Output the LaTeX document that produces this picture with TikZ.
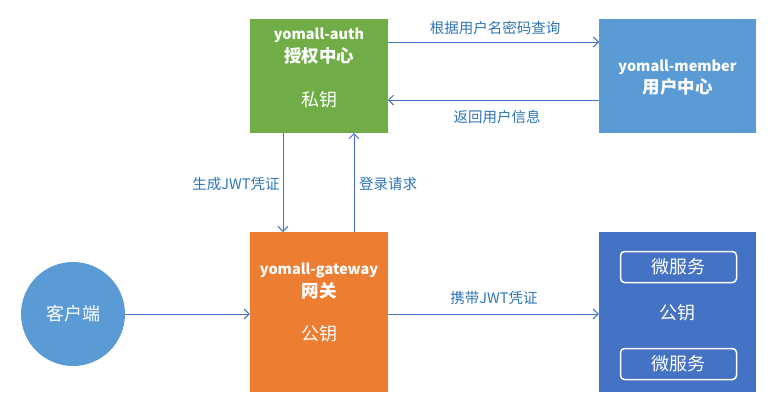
\documentclass[tikz,border=0pt]{standalone}
\usepackage{fontspec}
\setmainfont{Noto Sans CJK SC}
\usetikzlibrary{arrows.meta}
\definecolor{cgreen}{HTML}{70AD47}
\definecolor{cblue}{HTML}{5B9BD5}
\definecolor{corange}{HTML}{ED7D31}
\definecolor{cdblue}{HTML}{4472C4}
\definecolor{carrow}{HTML}{4472C4}
\definecolor{clabel}{HTML}{2E75B6}
\tikzset{
  box/.style={draw=none, minimum width=138pt, inner sep=0pt},
  conn/.style={draw=carrow, line width=1pt, -{Straight Barb[length=5pt,width=10pt,line width=1pt]}},
  lbl/.style={text=clabel, font=\fontsize{14.5}{16}\selectfont, inner sep=0pt},
  wtxt/.style={text=white, inner sep=0pt},
  hd/.style={wtxt, font=\fontsize{14.5}{16}\selectfont\bfseries},
  hdc/.style={wtxt, font=\fontsize{17.5}{19}\selectfont\bfseries},
  bd/.style={wtxt, font=\fontsize{18}{20}\selectfont},
  msbox/.style={draw=white, line width=1.5pt, rounded corners=4pt, minimum width=116pt, minimum height=31pt, inner sep=0pt, text=white, font=\fontsize{18}{20}\selectfont},
}
\begin{document}
\begin{tikzpicture}[x=1pt,y=-1pt]
\useasboundingbox (0,0) rectangle (779,416);
% boxes
\fill[cgreen] (250,19) rectangle (388,133);
\node[box, minimum height=114pt] (auth) at (319,76) {};
\fill[cblue] (599,19) rectangle (756,133);
\node[box, minimum width=157pt, minimum height=114pt] (member) at (677.5,76) {};
\fill[corange] (250,232) rectangle (388,392);
\node[box, minimum height=160pt] (gw) at (319,312) {};
\fill[cdblue] (599,232) rectangle (756,392);
\node[box, minimum width=157pt, minimum height=160pt] (ms) at (677.5,312) {};
\node[circle, fill=cblue, minimum size=104pt, inner sep=0pt] (client) at (73,314) {};
% texts
\node[hd] (t1) at (319,35) {yomall-auth};
\node[hdc] (t2) at (319,56) {授权中心};
\node[bd] (t3) at (319,100) {私钥};
\node[hd] (t4) at (677.5,67) {yomall-member};
\node[hdc] (t5) at (677.5,87) {用户中心};
\node[hd] (t6) at (319,270) {yomall-gateway};
\node[hdc] (t7) at (319,291) {网关};
\node[bd] (t8) at (319,334) {公钥};
\node[bd] (t9) at (73,314) {客户端};
\node[bd] (t10) at (677.5,313) {公钥};
\node[msbox] (m1) at (678.5,267) {微服务};
\node[msbox] (m2) at (678.5,364) {微服务};
% connectors
\coordinate (a1) at (388,42); \coordinate (b1) at (599,42);
\draw[conn] (a1) -- (b1);
\coordinate (a2) at (599,100); \coordinate (b2) at (388,100);
\draw[conn] (a2) -- (b2);
\coordinate (a3) at (283,133); \coordinate (b3) at (283,232);
\draw[conn] (a3) -- (b3);
\coordinate (a4) at (354,232); \coordinate (b4) at (354,133);
\draw[conn] (a4) -- (b4);
\draw[conn] (client.east) -- (gw.west |- client.east);
\draw[conn] (gw.east |- client.east) -- (ms.west |- client.east);
% labels
\node[lbl] (l1) at (495,28) {根据用户名密码查询};
\node[lbl] (l2) at (497,117) {返回用户信息};
\node[lbl] (l3) at (236,184) {生成JWT凭证};
\node[lbl] (l4) at (388,184) {登录请求};
\node[lbl] (l5) at (494,298) {携带JWT凭证};
\end{tikzpicture}
\end{document}
